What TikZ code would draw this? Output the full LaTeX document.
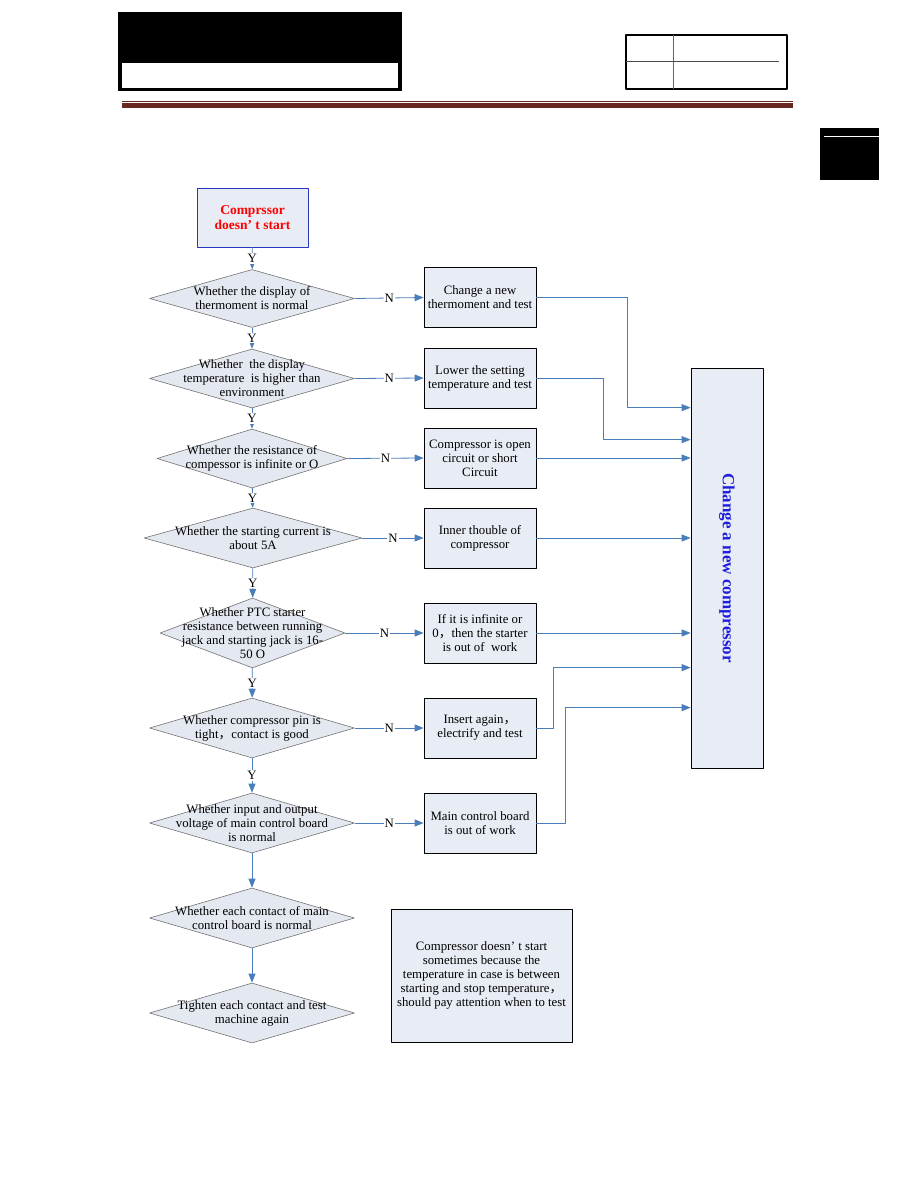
\documentclass[tikz,border=0pt]{standalone}
\usepackage{fontspec}
\setmainfont{Liberation Serif}
\newfontfamily\cjk{Noto Sans CJK SC}
\usetikzlibrary{shapes.geometric,arrows.meta}

\definecolor{boxfill}{RGB}{232,236,245}
\definecolor{diafill}{RGB}{228,232,241}
\definecolor{flowblue}{RGB}{74,126,187}
\definecolor{startblue}{RGB}{40,56,190}
\definecolor{barred}{RGB}{104,40,34}
\definecolor{titleblue}{RGB}{30,30,220}
\newcommand{\fwc}{{\cjk ，}}

\begin{document}
\begin{tikzpicture}[x=1pt, y=-1pt, line join=round,
    every node/.style={font=\fontsize{12.8}{14}\selectfont},
    decision/.style={diamond, draw=black!55, line width=0.6pt, fill=diafill, inner sep=0pt},
    dtext/.style={align=center, inner sep=0pt},
    action/.style={rectangle, draw, line width=0.7pt, fill=boxfill, minimum width=112pt,
      minimum height=60pt, inner sep=0pt, align=center},
    flow/.style={draw=flowblue, line width=0.8pt, -{Triangle[length=9pt,width=7pt]}},
    lbl/.style={fill=white, inner sep=1pt}]
  \useasboundingbox (0,0) rectangle (918,1188);

  % page header
  \fill[black] (118,12) rectangle (402,91);
  \fill[white] (122,63) rectangle (398,88);
  \draw[line width=2pt] (626,35) rectangle (787,89);
  \draw[black!60, line width=1pt] (673,35) -- (673,89);
  \draw[black!70, line width=1pt] (626,62) -- (779,62);
  \draw[barred, line width=0.8pt] (122,101) -- (793,101);
  \fill[barred] (122,103.5) rectangle (793,108);
  \fill[black] (820,128) rectangle (879,180);
  \draw[white, line width=1pt] (824,137) -- (879,137);

  % start
  \node[rectangle, draw=startblue, line width=0.8pt, fill=boxfill, minimum width=111pt,
    minimum height=59pt, align=center, text=red,
    font=\bfseries\fontsize{13.5}{15}\selectfont] (start) at (252.5,217.5)
    {Comprssor\\doesn’ t start};

  % decisions
  \node[decision, minimum width=205pt, minimum height=58pt] (d1) at (252,298.5) {};
  \node[dtext] (d1t) at (d1) {Whether the display of\\thermoment is normal};
  \node[decision, minimum width=205pt, minimum height=59pt] (d2) at (252,378.5) {};
  \node[dtext] (d2t) at (d2) {Whether\ \ the display\\temperature\ \ is higher than\\environment};
  \node[decision, minimum width=190pt, minimum height=59pt] (d3) at (252,458.5) {};
  \node[dtext] (d3t) at (d3) {Whether the resistance of\\compessor is infinite or O};
  \node[decision, minimum width=218pt, minimum height=60pt] (d4) at (253,538) {};
  \node[dtext] (d4t) at (d4) {Whether the starting current is\\about 5A};
  \node[decision, minimum width=185pt, minimum height=70pt] (d5) at (252.5,633) {};
  \node[dtext] (d5t) at (d5) {Whether PTC starter\\resistance between running\\jack and starting jack is 16-\\50 O};
  \node[decision, minimum width=205pt, minimum height=60pt] (d6) at (252,728) {};
  \node[dtext] (d6t) at (d6) {Whether compressor pin is\\tight\fwc contact is good};
  \node[decision, minimum width=205pt, minimum height=60pt] (d7) at (252,823) {};
  \node[dtext] (d7t) at (d7) {Whether input and output\\voltage of main control board\\is normal};
  \node[decision, minimum width=205pt, minimum height=60pt] (d8) at (252,918) {};
  \node[dtext] (d8t) at (d8) {Whether each contact of main\\control board is normal};
  \node[decision, minimum width=205pt, minimum height=60pt] (d9) at (252,1013) {};
  \node[dtext] (d9t) at (d9) {Tighten each contact and test\\machine again};

  % actions
  \node[action] (b1) at (480,297.5) {Change a new\\thermoment and test};
  \node[action] (b2) at (480,378) {Lower the setting\\temperature and test};
  \node[action] (b3) at (480,458) {Compressor is open\\circuit or short\\Circuit};
  \node[action] (b4) at (480,538) {Inner thouble of\\compressor};
  \node[action] (b5) at (480,633) {If it is infinite or\\0\fwc then the starter\\is out of\ \ work};
  \node[action] (b6) at (480,728) {Insert again\fwc\\electrify and test};
  \node[action] (b7) at (480,823) {Main control board\\is out of work};

  \node[rectangle, draw, line width=0.7pt, fill=boxfill, minimum width=181pt, minimum height=133pt,
    align=center, inner sep=0pt] (note) at (481.5,975.5)
    {Compressor doesn’ t start\\sometimes because the\\temperature in case is between\\starting and stop temperature\fwc\\should pay attention when to test};

  \node[rectangle, draw, line width=0.7pt, fill=boxfill, minimum width=72pt, minimum height=400pt] (cb) at (727,568) {};
  \node[rotate=-90, text=titleblue, font=\bfseries\fontsize{17}{20}\selectfont] (cbt) at (cb) {Change a new compressor};

  % Y branch
  \draw[flow] (start) -- node[lbl]{Y} (d1);
  \draw[flow] (d1) -- node[lbl]{Y} (d2);
  \draw[flow] (d2) -- node[lbl]{Y} (d3);
  \draw[flow] (d3) -- node[lbl]{Y} (d4);
  \draw[flow] (d4) -- node[lbl]{Y} (d5);
  \draw[flow] (d5) -- node[lbl]{Y} (d6);
  \draw[flow] (d6) -- node[lbl]{Y} (d7);
  \draw[flow] (d7) -- (d8);
  \draw[flow] (d8) -- (d9);

  % N branch
  \foreach \i in {1,...,7}
    \draw[flow] (d\i.east) -- node[lbl]{N} (b\i.west);

  % into the compressor box
  \draw[flow] (b1.east) -- ++(91,0) |- ([yshift=-40pt]cb.north west);
  \draw[flow] (b2.east) -- ++(67,0) |- ([yshift=-72pt]cb.north west);
  \draw[flow] (b3.east) -- (b3.east -| cb.west);
  \draw[flow] (b4.east) -- (b4.east -| cb.west);
  \draw[flow] (b5.east) -- (b5.east -| cb.west);
  \draw[flow] (b6.east) -- ++(17,0) |- ([yshift=-300pt]cb.north west);
  \draw[flow] (b7.east) -- ++(29,0) |- ([yshift=-340pt]cb.north west);
\end{tikzpicture}
\end{document}
